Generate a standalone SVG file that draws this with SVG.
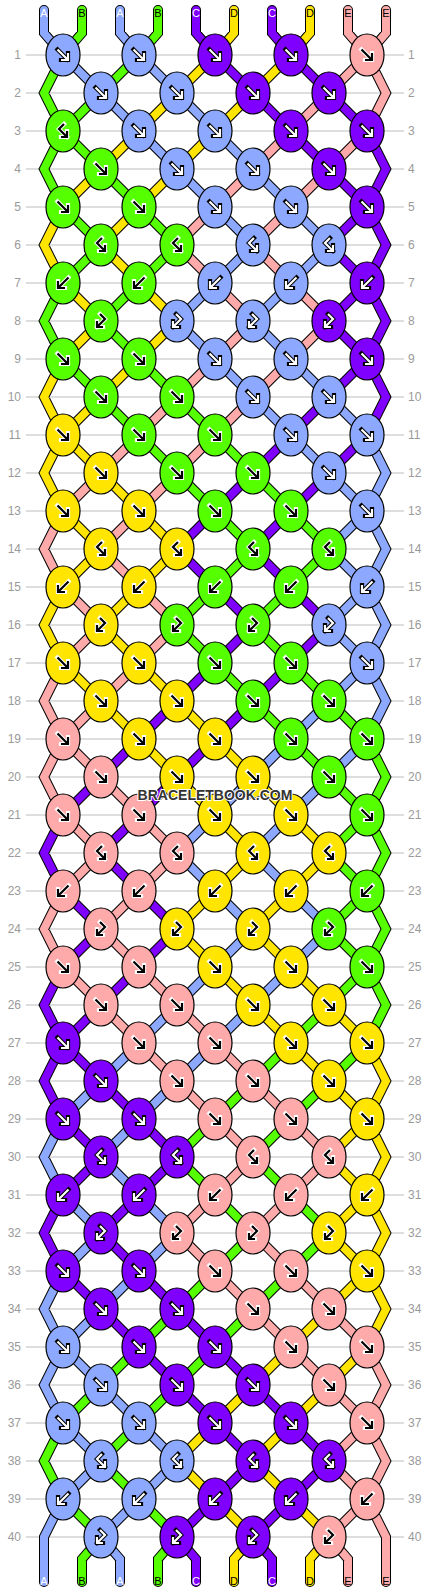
<svg xmlns="http://www.w3.org/2000/svg" xmlns:xlink="http://www.w3.org/1999/xlink" width="430" height="1592" viewBox="0 0 430 1592">
<style>
.t{fill:none;stroke-linecap:round;stroke-linejoin:miter}
.ol{stroke:#000;stroke-width:10}
.cA{stroke:#8da9ff;stroke-width:8}.cB{stroke:#55ff00;stroke-width:8}.cC{stroke:#7f00ff;stroke-width:8}.cD{stroke:#ffe500;stroke-width:8}.cE{stroke:#ffaaaa;stroke-width:8}
.A{fill:#8da9ff}.B{fill:#55ff00}.C{fill:#7f00ff}.D{fill:#ffe500}.E{fill:#ffaaaa}
.ao{fill:none;stroke:#000;stroke-width:4.2;stroke-linecap:square;stroke-linejoin:miter}
.ai{fill:none;stroke:#fff;stroke-width:2.2;stroke-linecap:butt;stroke-linejoin:miter}
.bo{fill:none;stroke:#fff;stroke-width:4.2;stroke-linecap:square;stroke-linejoin:miter}
.bi{fill:none;stroke:#000;stroke-width:2.2;stroke-linecap:butt;stroke-linejoin:miter}
.grid{stroke:#bdbdbd;stroke-width:1;fill:none}
.nl{font-family:'Liberation Sans',Arial,sans-serif;font-size:12px;fill:#9a9a9a;text-anchor:end}
.nr{font-family:'Liberation Sans',Arial,sans-serif;font-size:12px;fill:#9a9a9a;text-anchor:start}
.lab{font-family:'Liberation Sans',Arial,sans-serif;font-size:11px;text-anchor:middle}
.lw{fill:#fff}.lk{fill:#000}
.wm{font-family:'Liberation Sans',Arial,sans-serif;font-weight:bold;font-size:14px;text-anchor:middle;fill:#333;stroke:#fff;stroke-width:2;paint-order:stroke}
</style>
<defs>
<ellipse id="e" rx="17" ry="21" stroke="#000" stroke-width="1.2"/>
<path id="pf" d="M-5.5,-5.5L4.5,4.5M5,-2V5H-2"/>
<path id="pb" d="M5.5,-5.5L-4.5,4.5M-5,-2V5H2"/>
<path id="pfb" d="M1,-7L-4,-2L4,6M4,0V6H-2"/>
<path id="pbf" d="M-1,-7L4,-2L-4,6M-4,0V6H2"/>
<g id="Wf"><use href="#pf" class="ao"/><use href="#pf" class="ai"/></g>
<g id="Wb"><use href="#pb" class="ao"/><use href="#pb" class="ai"/></g>
<g id="Wfb"><use href="#pfb" class="ao"/><use href="#pfb" class="ai"/></g>
<g id="Wbf"><use href="#pbf" class="ao"/><use href="#pbf" class="ai"/></g>
<g id="Kf"><use href="#pf" class="bo"/><use href="#pf" class="bi"/></g>
<g id="Kb"><use href="#pb" class="bo"/><use href="#pb" class="bi"/></g>
<g id="Kfb"><use href="#pfb" class="bo"/><use href="#pfb" class="bi"/></g>
<g id="Kbf"><use href="#pbf" class="bo"/><use href="#pbf" class="bi"/></g>
<path id="tA" d="M44,10V33L63,55M120,10V33L139,55M63,55l38,38M139,55l38,38M101,93l38,38M177,93l38,38M139,131l38,38M215,131l38,38M177,169l38,38M253,169l38,38M215,207l38,38M291,207l38,38M253,245l-38,38M329,245l-38,38M215,283l-38,38M291,283l-38,38M177,321l38,38M253,321l38,38M215,359l38,38M291,359l38,38M253,397l38,38M329,397l38,38M291,435l38,38M329,473l38,38M367,511l-38,38M329,549l38,38M367,587l-38,38M329,625l38,38M367,663l-38,38M329,701l-38,38M291,739l-38,38M367,739l-38,38M253,777l-38,38M329,777l-38,38M215,815l-38,38M291,815l-38,38M177,853l38,38M253,853l38,38M215,891l38,38M291,891l38,38M253,929l-38,38M329,929l-38,38M215,967l-38,38M291,967l-38,38M177,1005l-38,38M253,1005l-38,38M139,1043l-38,38M215,1043l-38,38M101,1081l-38,38M177,1081l-38,38M139,1119l-38,38M101,1157l38,38M63,1195l38,38M139,1195l38,38M101,1233l-38,38M177,1233l-38,38M139,1271l-38,38M101,1309l-38,38M63,1347l38,38M101,1385l38,38M63,1423l38,38M139,1423l38,38M101,1461l-38,38M177,1461l-38,38M139,1499l-38,38M63,1119L44,1157L63,1195M63,1271L44,1309L63,1347L44,1385L63,1423M63,1499L44,1537V1582M367,435L386,473L367,511L386,549L367,587L386,625L367,663L386,701L367,739M101,1537L120,1559V1582"/>
<path id="tB" d="M82,10V33L63,55M158,10V33L139,55M139,55l-38,38M101,93l-38,38M63,131l38,38M101,169l38,38M63,207l38,38M139,207l38,38M101,245l-38,38M177,245l-38,38M139,283l-38,38M101,321l38,38M63,359l38,38M139,359l38,38M101,397l38,38M177,397l38,38M139,435l38,38M215,435l38,38M177,473l38,38M253,473l38,38M215,511l38,38M291,511l38,38M253,549l-38,38M329,549l-38,38M215,587l-38,38M291,587l-38,38M177,625l38,38M253,625l38,38M215,663l38,38M291,663l38,38M253,701l38,38M329,701l38,38M291,739l38,38M329,777l38,38M367,815l-38,38M329,853l38,38M367,891l-38,38M329,929l38,38M367,967l-38,38M329,1005l-38,38M291,1043l-38,38M367,1043l-38,38M253,1081l-38,38M329,1081l-38,38M215,1119l-38,38M291,1119l-38,38M177,1157l38,38M253,1157l38,38M215,1195l38,38M291,1195l38,38M253,1233l-38,38M329,1233l-38,38M215,1271l-38,38M291,1271l-38,38M177,1309l-38,38M253,1309l-38,38M139,1347l-38,38M215,1347l-38,38M101,1385l-38,38M177,1385l-38,38M139,1423l-38,38M101,1461l38,38M63,1499l38,38M139,1499l38,38M63,55L44,93L63,131L44,169L63,207M63,283L44,321L63,359M63,1423L44,1461L63,1499M367,739L386,777L367,815L386,853L367,891L386,929L367,967L386,1005L367,1043M101,1537L82,1559V1582M177,1537L158,1559V1582"/>
<path id="tC" d="M196,10V33L215,55M272,10V33L291,55M215,55l38,38M291,55l38,38M253,93l38,38M329,93l38,38M291,131l38,38M329,169l38,38M367,207l-38,38M329,245l38,38M367,283l-38,38M329,321l38,38M367,359l-38,38M329,397l-38,38M291,435l-38,38M367,435l-38,38M253,473l-38,38M329,473l-38,38M215,511l-38,38M291,511l-38,38M177,549l38,38M253,549l38,38M215,587l38,38M291,587l38,38M253,625l-38,38M329,625l-38,38M215,663l-38,38M291,663l-38,38M177,701l-38,38M253,701l-38,38M139,739l-38,38M215,739l-38,38M101,777l-38,38M177,777l-38,38M139,815l-38,38M101,853l38,38M63,891l38,38M139,891l38,38M101,929l-38,38M177,929l-38,38M139,967l-38,38M101,1005l-38,38M63,1043l38,38M101,1081l38,38M63,1119l38,38M139,1119l38,38M101,1157l-38,38M177,1157l-38,38M139,1195l-38,38M101,1233l38,38M63,1271l38,38M139,1271l38,38M101,1309l38,38M177,1309l38,38M139,1347l38,38M215,1347l38,38M177,1385l38,38M253,1385l38,38M215,1423l38,38M291,1423l38,38M253,1461l-38,38M329,1461l-38,38M215,1499l-38,38M291,1499l-38,38M63,815L44,853L63,891M63,967L44,1005L63,1043L44,1081L63,1119M63,1195L44,1233L63,1271M367,131L386,169L367,207L386,245L367,283L386,321L367,359L386,397L367,435M177,1537L196,1559V1582M253,1537L272,1559V1582"/>
<path id="tD" d="M234,10V33L215,55M310,10V33L291,55M215,55l-38,38M291,55l-38,38M177,93l-38,38M253,93l-38,38M139,131l-38,38M215,131l-38,38M101,169l-38,38M177,169l-38,38M139,207l-38,38M101,245l38,38M63,283l38,38M139,283l38,38M101,321l-38,38M177,321l-38,38M139,359l-38,38M101,397l-38,38M63,435l38,38M101,473l38,38M63,511l38,38M139,511l38,38M101,549l-38,38M177,549l-38,38M139,587l-38,38M101,625l38,38M63,663l38,38M139,663l38,38M101,701l38,38M177,701l38,38M139,739l38,38M215,739l38,38M177,777l38,38M253,777l38,38M215,815l38,38M291,815l38,38M253,853l-38,38M329,853l-38,38M215,891l-38,38M291,891l-38,38M177,929l38,38M253,929l38,38M215,967l38,38M291,967l38,38M253,1005l38,38M329,1005l38,38M291,1043l38,38M329,1081l38,38M367,1119l-38,38M329,1157l38,38M367,1195l-38,38M329,1233l38,38M367,1271l-38,38M329,1309l-38,38M291,1347l-38,38M367,1347l-38,38M253,1385l-38,38M329,1385l-38,38M215,1423l-38,38M291,1423l-38,38M177,1461l38,38M253,1461l38,38M215,1499l38,38M291,1499l38,38M63,207L44,245L63,283M63,359L44,397L63,435L44,473L63,511M63,587L44,625L63,663M367,1043L386,1081L367,1119L386,1157L367,1195L386,1233L367,1271L386,1309L367,1347M253,1537L234,1559V1582M329,1537L310,1559V1582"/>
<path id="tE" d="M348,10V33L367,55M386,10V33L367,55M367,55l-38,38M329,93l-38,38M291,131l-38,38M367,131l-38,38M253,169l-38,38M329,169l-38,38M215,207l-38,38M291,207l-38,38M177,245l38,38M253,245l38,38M215,283l38,38M291,283l38,38M253,321l-38,38M329,321l-38,38M215,359l-38,38M291,359l-38,38M177,397l-38,38M253,397l-38,38M139,435l-38,38M215,435l-38,38M101,473l-38,38M177,473l-38,38M139,511l-38,38M101,549l38,38M63,587l38,38M139,587l38,38M101,625l-38,38M177,625l-38,38M139,663l-38,38M101,701l-38,38M63,739l38,38M101,777l38,38M63,815l38,38M139,815l38,38M101,853l-38,38M177,853l-38,38M139,891l-38,38M101,929l38,38M63,967l38,38M139,967l38,38M101,1005l38,38M177,1005l38,38M139,1043l38,38M215,1043l38,38M177,1081l38,38M253,1081l38,38M215,1119l38,38M291,1119l38,38M253,1157l-38,38M329,1157l-38,38M215,1195l-38,38M291,1195l-38,38M177,1233l38,38M253,1233l38,38M215,1271l38,38M291,1271l38,38M253,1309l38,38M329,1309l38,38M291,1347l38,38M329,1385l38,38M367,1423l-38,38M329,1461l38,38M367,1499l-38,38M63,511L44,549L63,587M63,663L44,701L63,739L44,777L63,815M63,891L44,929L63,967M367,55L386,93L367,131M367,1347L386,1385L367,1423L386,1461L367,1499L386,1537V1582M329,1537L348,1559V1582"/>
</defs>
<rect width="430" height="1592" fill="#fff"/>
<g id="gridlines">
<path class="grid" d="M26,55H404M26,93H404M26,131H404M26,169H404M26,207H404M26,245H404M26,283H404M26,321H404M26,359H404M26,397H404M26,435H404M26,473H404M26,511H404M26,549H404M26,587H404M26,625H404M26,663H404M26,701H404M26,739H404M26,777H404M26,815H404M26,853H404M26,891H404M26,929H404M26,967H404M26,1005H404M26,1043H404M26,1081H404M26,1119H404M26,1157H404M26,1195H404M26,1233H404M26,1271H404M26,1309H404M26,1347H404M26,1385H404M26,1423H404M26,1461H404M26,1499H404M26,1537H404"/>
</g>
<g id="rownumbers">
<text class="nl" x="21" y="59">1</text><text class="nr" x="408" y="59">1</text>
<text class="nl" x="21" y="97">2</text><text class="nr" x="408" y="97">2</text>
<text class="nl" x="21" y="135">3</text><text class="nr" x="408" y="135">3</text>
<text class="nl" x="21" y="173">4</text><text class="nr" x="408" y="173">4</text>
<text class="nl" x="21" y="211">5</text><text class="nr" x="408" y="211">5</text>
<text class="nl" x="21" y="249">6</text><text class="nr" x="408" y="249">6</text>
<text class="nl" x="21" y="287">7</text><text class="nr" x="408" y="287">7</text>
<text class="nl" x="21" y="325">8</text><text class="nr" x="408" y="325">8</text>
<text class="nl" x="21" y="363">9</text><text class="nr" x="408" y="363">9</text>
<text class="nl" x="21" y="401">10</text><text class="nr" x="408" y="401">10</text>
<text class="nl" x="21" y="439">11</text><text class="nr" x="408" y="439">11</text>
<text class="nl" x="21" y="477">12</text><text class="nr" x="408" y="477">12</text>
<text class="nl" x="21" y="515">13</text><text class="nr" x="408" y="515">13</text>
<text class="nl" x="21" y="553">14</text><text class="nr" x="408" y="553">14</text>
<text class="nl" x="21" y="591">15</text><text class="nr" x="408" y="591">15</text>
<text class="nl" x="21" y="629">16</text><text class="nr" x="408" y="629">16</text>
<text class="nl" x="21" y="667">17</text><text class="nr" x="408" y="667">17</text>
<text class="nl" x="21" y="705">18</text><text class="nr" x="408" y="705">18</text>
<text class="nl" x="21" y="743">19</text><text class="nr" x="408" y="743">19</text>
<text class="nl" x="21" y="781">20</text><text class="nr" x="408" y="781">20</text>
<text class="nl" x="21" y="819">21</text><text class="nr" x="408" y="819">21</text>
<text class="nl" x="21" y="857">22</text><text class="nr" x="408" y="857">22</text>
<text class="nl" x="21" y="895">23</text><text class="nr" x="408" y="895">23</text>
<text class="nl" x="21" y="933">24</text><text class="nr" x="408" y="933">24</text>
<text class="nl" x="21" y="971">25</text><text class="nr" x="408" y="971">25</text>
<text class="nl" x="21" y="1009">26</text><text class="nr" x="408" y="1009">26</text>
<text class="nl" x="21" y="1047">27</text><text class="nr" x="408" y="1047">27</text>
<text class="nl" x="21" y="1085">28</text><text class="nr" x="408" y="1085">28</text>
<text class="nl" x="21" y="1123">29</text><text class="nr" x="408" y="1123">29</text>
<text class="nl" x="21" y="1161">30</text><text class="nr" x="408" y="1161">30</text>
<text class="nl" x="21" y="1199">31</text><text class="nr" x="408" y="1199">31</text>
<text class="nl" x="21" y="1237">32</text><text class="nr" x="408" y="1237">32</text>
<text class="nl" x="21" y="1275">33</text><text class="nr" x="408" y="1275">33</text>
<text class="nl" x="21" y="1313">34</text><text class="nr" x="408" y="1313">34</text>
<text class="nl" x="21" y="1351">35</text><text class="nr" x="408" y="1351">35</text>
<text class="nl" x="21" y="1389">36</text><text class="nr" x="408" y="1389">36</text>
<text class="nl" x="21" y="1427">37</text><text class="nr" x="408" y="1427">37</text>
<text class="nl" x="21" y="1465">38</text><text class="nr" x="408" y="1465">38</text>
<text class="nl" x="21" y="1503">39</text><text class="nr" x="408" y="1503">39</text>
<text class="nl" x="21" y="1541">40</text><text class="nr" x="408" y="1541">40</text>
</g>
<g id="connectors">
<g class="t ol"><use href="#tA"/><use href="#tB"/><use href="#tC"/><use href="#tD"/><use href="#tE"/></g>
<use href="#tA" class="t cA"/><use href="#tB" class="t cB"/><use href="#tC" class="t cC"/><use href="#tD" class="t cD"/><use href="#tE" class="t cE"/>
</g>
<g id="stringlabels">
<text class="lab lw" x="44" y="17">A</text><text class="lab lk" x="82" y="17">B</text><text class="lab lw" x="120" y="17">A</text><text class="lab lk" x="158" y="17">B</text><text class="lab lw" x="196" y="17">C</text><text class="lab lk" x="234" y="17">D</text><text class="lab lw" x="272" y="17">C</text><text class="lab lk" x="310" y="17">D</text><text class="lab lk" x="348" y="17">E</text><text class="lab lk" x="386" y="17">E</text>
<text class="lab lw" x="44" y="1585">A</text><text class="lab lk" x="82" y="1585">B</text><text class="lab lw" x="120" y="1585">A</text><text class="lab lk" x="158" y="1585">B</text><text class="lab lw" x="196" y="1585">C</text><text class="lab lk" x="234" y="1585">D</text><text class="lab lw" x="272" y="1585">C</text><text class="lab lk" x="310" y="1585">D</text><text class="lab lk" x="348" y="1585">E</text><text class="lab lk" x="386" y="1585">E</text>
</g>
<g id="knots">
<g id="k1-1" transform="translate(63,55)"><use href="#e" class="A"/><use href="#Wf"/></g>
<g id="k1-2" transform="translate(139,55)"><use href="#e" class="A"/><use href="#Wf"/></g>
<g id="k1-3" transform="translate(215,55)"><use href="#e" class="C"/><use href="#Wf"/></g>
<g id="k1-4" transform="translate(291,55)"><use href="#e" class="C"/><use href="#Wf"/></g>
<g id="k1-5" transform="translate(367,55)"><use href="#e" class="E"/><use href="#Kf"/></g>
<g id="k2-1" transform="translate(101,93)"><use href="#e" class="A"/><use href="#Wf"/></g>
<g id="k2-2" transform="translate(177,93)"><use href="#e" class="A"/><use href="#Wf"/></g>
<g id="k2-3" transform="translate(253,93)"><use href="#e" class="C"/><use href="#Wf"/></g>
<g id="k2-4" transform="translate(329,93)"><use href="#e" class="C"/><use href="#Wf"/></g>
<g id="k3-1" transform="translate(63,131)"><use href="#e" class="B"/><use href="#Kfb"/></g>
<g id="k3-2" transform="translate(139,131)"><use href="#e" class="A"/><use href="#Wf"/></g>
<g id="k3-3" transform="translate(215,131)"><use href="#e" class="A"/><use href="#Wf"/></g>
<g id="k3-4" transform="translate(291,131)"><use href="#e" class="C"/><use href="#Wf"/></g>
<g id="k3-5" transform="translate(367,131)"><use href="#e" class="C"/><use href="#Wf"/></g>
<g id="k4-1" transform="translate(101,169)"><use href="#e" class="B"/><use href="#Kf"/></g>
<g id="k4-2" transform="translate(177,169)"><use href="#e" class="A"/><use href="#Wf"/></g>
<g id="k4-3" transform="translate(253,169)"><use href="#e" class="A"/><use href="#Wf"/></g>
<g id="k4-4" transform="translate(329,169)"><use href="#e" class="C"/><use href="#Wf"/></g>
<g id="k5-1" transform="translate(63,207)"><use href="#e" class="B"/><use href="#Kf"/></g>
<g id="k5-2" transform="translate(139,207)"><use href="#e" class="B"/><use href="#Kf"/></g>
<g id="k5-3" transform="translate(215,207)"><use href="#e" class="A"/><use href="#Wf"/></g>
<g id="k5-4" transform="translate(291,207)"><use href="#e" class="A"/><use href="#Wf"/></g>
<g id="k5-5" transform="translate(367,207)"><use href="#e" class="C"/><use href="#Wf"/></g>
<g id="k6-1" transform="translate(101,245)"><use href="#e" class="B"/><use href="#Kfb"/></g>
<g id="k6-2" transform="translate(177,245)"><use href="#e" class="B"/><use href="#Kfb"/></g>
<g id="k6-3" transform="translate(253,245)"><use href="#e" class="A"/><use href="#Wfb"/></g>
<g id="k6-4" transform="translate(329,245)"><use href="#e" class="A"/><use href="#Wfb"/></g>
<g id="k7-1" transform="translate(63,283)"><use href="#e" class="B"/><use href="#Kb"/></g>
<g id="k7-2" transform="translate(139,283)"><use href="#e" class="B"/><use href="#Kb"/></g>
<g id="k7-3" transform="translate(215,283)"><use href="#e" class="A"/><use href="#Wb"/></g>
<g id="k7-4" transform="translate(291,283)"><use href="#e" class="A"/><use href="#Wb"/></g>
<g id="k7-5" transform="translate(367,283)"><use href="#e" class="C"/><use href="#Wb"/></g>
<g id="k8-1" transform="translate(101,321)"><use href="#e" class="B"/><use href="#Kbf"/></g>
<g id="k8-2" transform="translate(177,321)"><use href="#e" class="A"/><use href="#Wbf"/></g>
<g id="k8-3" transform="translate(253,321)"><use href="#e" class="A"/><use href="#Wbf"/></g>
<g id="k8-4" transform="translate(329,321)"><use href="#e" class="C"/><use href="#Wbf"/></g>
<g id="k9-1" transform="translate(63,359)"><use href="#e" class="B"/><use href="#Kf"/></g>
<g id="k9-2" transform="translate(139,359)"><use href="#e" class="B"/><use href="#Kf"/></g>
<g id="k9-3" transform="translate(215,359)"><use href="#e" class="A"/><use href="#Wf"/></g>
<g id="k9-4" transform="translate(291,359)"><use href="#e" class="A"/><use href="#Wf"/></g>
<g id="k9-5" transform="translate(367,359)"><use href="#e" class="C"/><use href="#Wf"/></g>
<g id="k10-1" transform="translate(101,397)"><use href="#e" class="B"/><use href="#Kf"/></g>
<g id="k10-2" transform="translate(177,397)"><use href="#e" class="B"/><use href="#Kf"/></g>
<g id="k10-3" transform="translate(253,397)"><use href="#e" class="A"/><use href="#Wf"/></g>
<g id="k10-4" transform="translate(329,397)"><use href="#e" class="A"/><use href="#Wf"/></g>
<g id="k11-1" transform="translate(63,435)"><use href="#e" class="D"/><use href="#Kf"/></g>
<g id="k11-2" transform="translate(139,435)"><use href="#e" class="B"/><use href="#Kf"/></g>
<g id="k11-3" transform="translate(215,435)"><use href="#e" class="B"/><use href="#Kf"/></g>
<g id="k11-4" transform="translate(291,435)"><use href="#e" class="A"/><use href="#Wf"/></g>
<g id="k11-5" transform="translate(367,435)"><use href="#e" class="A"/><use href="#Wf"/></g>
<g id="k12-1" transform="translate(101,473)"><use href="#e" class="D"/><use href="#Kf"/></g>
<g id="k12-2" transform="translate(177,473)"><use href="#e" class="B"/><use href="#Kf"/></g>
<g id="k12-3" transform="translate(253,473)"><use href="#e" class="B"/><use href="#Kf"/></g>
<g id="k12-4" transform="translate(329,473)"><use href="#e" class="A"/><use href="#Wf"/></g>
<g id="k13-1" transform="translate(63,511)"><use href="#e" class="D"/><use href="#Kf"/></g>
<g id="k13-2" transform="translate(139,511)"><use href="#e" class="D"/><use href="#Kf"/></g>
<g id="k13-3" transform="translate(215,511)"><use href="#e" class="B"/><use href="#Kf"/></g>
<g id="k13-4" transform="translate(291,511)"><use href="#e" class="B"/><use href="#Kf"/></g>
<g id="k13-5" transform="translate(367,511)"><use href="#e" class="A"/><use href="#Wf"/></g>
<g id="k14-1" transform="translate(101,549)"><use href="#e" class="D"/><use href="#Kfb"/></g>
<g id="k14-2" transform="translate(177,549)"><use href="#e" class="D"/><use href="#Kfb"/></g>
<g id="k14-3" transform="translate(253,549)"><use href="#e" class="B"/><use href="#Kfb"/></g>
<g id="k14-4" transform="translate(329,549)"><use href="#e" class="B"/><use href="#Kfb"/></g>
<g id="k15-1" transform="translate(63,587)"><use href="#e" class="D"/><use href="#Kb"/></g>
<g id="k15-2" transform="translate(139,587)"><use href="#e" class="D"/><use href="#Kb"/></g>
<g id="k15-3" transform="translate(215,587)"><use href="#e" class="B"/><use href="#Kb"/></g>
<g id="k15-4" transform="translate(291,587)"><use href="#e" class="B"/><use href="#Kb"/></g>
<g id="k15-5" transform="translate(367,587)"><use href="#e" class="A"/><use href="#Wb"/></g>
<g id="k16-1" transform="translate(101,625)"><use href="#e" class="D"/><use href="#Kbf"/></g>
<g id="k16-2" transform="translate(177,625)"><use href="#e" class="B"/><use href="#Kbf"/></g>
<g id="k16-3" transform="translate(253,625)"><use href="#e" class="B"/><use href="#Kbf"/></g>
<g id="k16-4" transform="translate(329,625)"><use href="#e" class="A"/><use href="#Wbf"/></g>
<g id="k17-1" transform="translate(63,663)"><use href="#e" class="D"/><use href="#Kf"/></g>
<g id="k17-2" transform="translate(139,663)"><use href="#e" class="D"/><use href="#Kf"/></g>
<g id="k17-3" transform="translate(215,663)"><use href="#e" class="B"/><use href="#Kf"/></g>
<g id="k17-4" transform="translate(291,663)"><use href="#e" class="B"/><use href="#Kf"/></g>
<g id="k17-5" transform="translate(367,663)"><use href="#e" class="A"/><use href="#Wf"/></g>
<g id="k18-1" transform="translate(101,701)"><use href="#e" class="D"/><use href="#Kf"/></g>
<g id="k18-2" transform="translate(177,701)"><use href="#e" class="D"/><use href="#Kf"/></g>
<g id="k18-3" transform="translate(253,701)"><use href="#e" class="B"/><use href="#Kf"/></g>
<g id="k18-4" transform="translate(329,701)"><use href="#e" class="B"/><use href="#Kf"/></g>
<g id="k19-1" transform="translate(63,739)"><use href="#e" class="E"/><use href="#Kf"/></g>
<g id="k19-2" transform="translate(139,739)"><use href="#e" class="D"/><use href="#Kf"/></g>
<g id="k19-3" transform="translate(215,739)"><use href="#e" class="D"/><use href="#Kf"/></g>
<g id="k19-4" transform="translate(291,739)"><use href="#e" class="B"/><use href="#Kf"/></g>
<g id="k19-5" transform="translate(367,739)"><use href="#e" class="B"/><use href="#Kf"/></g>
<g id="k20-1" transform="translate(101,777)"><use href="#e" class="E"/><use href="#Kf"/></g>
<g id="k20-2" transform="translate(177,777)"><use href="#e" class="D"/><use href="#Kf"/></g>
<g id="k20-3" transform="translate(253,777)"><use href="#e" class="D"/><use href="#Kf"/></g>
<g id="k20-4" transform="translate(329,777)"><use href="#e" class="B"/><use href="#Kf"/></g>
<g id="k21-1" transform="translate(63,815)"><use href="#e" class="E"/><use href="#Kf"/></g>
<g id="k21-2" transform="translate(139,815)"><use href="#e" class="E"/><use href="#Kf"/></g>
<g id="k21-3" transform="translate(215,815)"><use href="#e" class="D"/><use href="#Kf"/></g>
<g id="k21-4" transform="translate(291,815)"><use href="#e" class="D"/><use href="#Kf"/></g>
<g id="k21-5" transform="translate(367,815)"><use href="#e" class="B"/><use href="#Kf"/></g>
<g id="k22-1" transform="translate(101,853)"><use href="#e" class="E"/><use href="#Kfb"/></g>
<g id="k22-2" transform="translate(177,853)"><use href="#e" class="E"/><use href="#Kfb"/></g>
<g id="k22-3" transform="translate(253,853)"><use href="#e" class="D"/><use href="#Kfb"/></g>
<g id="k22-4" transform="translate(329,853)"><use href="#e" class="D"/><use href="#Kfb"/></g>
<g id="k23-1" transform="translate(63,891)"><use href="#e" class="E"/><use href="#Kb"/></g>
<g id="k23-2" transform="translate(139,891)"><use href="#e" class="E"/><use href="#Kb"/></g>
<g id="k23-3" transform="translate(215,891)"><use href="#e" class="D"/><use href="#Kb"/></g>
<g id="k23-4" transform="translate(291,891)"><use href="#e" class="D"/><use href="#Kb"/></g>
<g id="k23-5" transform="translate(367,891)"><use href="#e" class="B"/><use href="#Kb"/></g>
<g id="k24-1" transform="translate(101,929)"><use href="#e" class="E"/><use href="#Kbf"/></g>
<g id="k24-2" transform="translate(177,929)"><use href="#e" class="D"/><use href="#Kbf"/></g>
<g id="k24-3" transform="translate(253,929)"><use href="#e" class="D"/><use href="#Kbf"/></g>
<g id="k24-4" transform="translate(329,929)"><use href="#e" class="B"/><use href="#Kbf"/></g>
<g id="k25-1" transform="translate(63,967)"><use href="#e" class="E"/><use href="#Kf"/></g>
<g id="k25-2" transform="translate(139,967)"><use href="#e" class="E"/><use href="#Kf"/></g>
<g id="k25-3" transform="translate(215,967)"><use href="#e" class="D"/><use href="#Kf"/></g>
<g id="k25-4" transform="translate(291,967)"><use href="#e" class="D"/><use href="#Kf"/></g>
<g id="k25-5" transform="translate(367,967)"><use href="#e" class="B"/><use href="#Kf"/></g>
<g id="k26-1" transform="translate(101,1005)"><use href="#e" class="E"/><use href="#Kf"/></g>
<g id="k26-2" transform="translate(177,1005)"><use href="#e" class="E"/><use href="#Kf"/></g>
<g id="k26-3" transform="translate(253,1005)"><use href="#e" class="D"/><use href="#Kf"/></g>
<g id="k26-4" transform="translate(329,1005)"><use href="#e" class="D"/><use href="#Kf"/></g>
<g id="k27-1" transform="translate(63,1043)"><use href="#e" class="C"/><use href="#Wf"/></g>
<g id="k27-2" transform="translate(139,1043)"><use href="#e" class="E"/><use href="#Kf"/></g>
<g id="k27-3" transform="translate(215,1043)"><use href="#e" class="E"/><use href="#Kf"/></g>
<g id="k27-4" transform="translate(291,1043)"><use href="#e" class="D"/><use href="#Kf"/></g>
<g id="k27-5" transform="translate(367,1043)"><use href="#e" class="D"/><use href="#Kf"/></g>
<g id="k28-1" transform="translate(101,1081)"><use href="#e" class="C"/><use href="#Wf"/></g>
<g id="k28-2" transform="translate(177,1081)"><use href="#e" class="E"/><use href="#Kf"/></g>
<g id="k28-3" transform="translate(253,1081)"><use href="#e" class="E"/><use href="#Kf"/></g>
<g id="k28-4" transform="translate(329,1081)"><use href="#e" class="D"/><use href="#Kf"/></g>
<g id="k29-1" transform="translate(63,1119)"><use href="#e" class="C"/><use href="#Wf"/></g>
<g id="k29-2" transform="translate(139,1119)"><use href="#e" class="C"/><use href="#Wf"/></g>
<g id="k29-3" transform="translate(215,1119)"><use href="#e" class="E"/><use href="#Kf"/></g>
<g id="k29-4" transform="translate(291,1119)"><use href="#e" class="E"/><use href="#Kf"/></g>
<g id="k29-5" transform="translate(367,1119)"><use href="#e" class="D"/><use href="#Kf"/></g>
<g id="k30-1" transform="translate(101,1157)"><use href="#e" class="C"/><use href="#Wfb"/></g>
<g id="k30-2" transform="translate(177,1157)"><use href="#e" class="C"/><use href="#Wfb"/></g>
<g id="k30-3" transform="translate(253,1157)"><use href="#e" class="E"/><use href="#Kfb"/></g>
<g id="k30-4" transform="translate(329,1157)"><use href="#e" class="E"/><use href="#Kfb"/></g>
<g id="k31-1" transform="translate(63,1195)"><use href="#e" class="C"/><use href="#Wb"/></g>
<g id="k31-2" transform="translate(139,1195)"><use href="#e" class="C"/><use href="#Wb"/></g>
<g id="k31-3" transform="translate(215,1195)"><use href="#e" class="E"/><use href="#Kb"/></g>
<g id="k31-4" transform="translate(291,1195)"><use href="#e" class="E"/><use href="#Kb"/></g>
<g id="k31-5" transform="translate(367,1195)"><use href="#e" class="D"/><use href="#Kb"/></g>
<g id="k32-1" transform="translate(101,1233)"><use href="#e" class="C"/><use href="#Wbf"/></g>
<g id="k32-2" transform="translate(177,1233)"><use href="#e" class="E"/><use href="#Kbf"/></g>
<g id="k32-3" transform="translate(253,1233)"><use href="#e" class="E"/><use href="#Kbf"/></g>
<g id="k32-4" transform="translate(329,1233)"><use href="#e" class="D"/><use href="#Kbf"/></g>
<g id="k33-1" transform="translate(63,1271)"><use href="#e" class="C"/><use href="#Wf"/></g>
<g id="k33-2" transform="translate(139,1271)"><use href="#e" class="C"/><use href="#Wf"/></g>
<g id="k33-3" transform="translate(215,1271)"><use href="#e" class="E"/><use href="#Kf"/></g>
<g id="k33-4" transform="translate(291,1271)"><use href="#e" class="E"/><use href="#Kf"/></g>
<g id="k33-5" transform="translate(367,1271)"><use href="#e" class="D"/><use href="#Kf"/></g>
<g id="k34-1" transform="translate(101,1309)"><use href="#e" class="C"/><use href="#Wf"/></g>
<g id="k34-2" transform="translate(177,1309)"><use href="#e" class="C"/><use href="#Wf"/></g>
<g id="k34-3" transform="translate(253,1309)"><use href="#e" class="E"/><use href="#Kf"/></g>
<g id="k34-4" transform="translate(329,1309)"><use href="#e" class="E"/><use href="#Kf"/></g>
<g id="k35-1" transform="translate(63,1347)"><use href="#e" class="A"/><use href="#Wf"/></g>
<g id="k35-2" transform="translate(139,1347)"><use href="#e" class="C"/><use href="#Wf"/></g>
<g id="k35-3" transform="translate(215,1347)"><use href="#e" class="C"/><use href="#Wf"/></g>
<g id="k35-4" transform="translate(291,1347)"><use href="#e" class="E"/><use href="#Kf"/></g>
<g id="k35-5" transform="translate(367,1347)"><use href="#e" class="E"/><use href="#Kf"/></g>
<g id="k36-1" transform="translate(101,1385)"><use href="#e" class="A"/><use href="#Wf"/></g>
<g id="k36-2" transform="translate(177,1385)"><use href="#e" class="C"/><use href="#Wf"/></g>
<g id="k36-3" transform="translate(253,1385)"><use href="#e" class="C"/><use href="#Wf"/></g>
<g id="k36-4" transform="translate(329,1385)"><use href="#e" class="E"/><use href="#Kf"/></g>
<g id="k37-1" transform="translate(63,1423)"><use href="#e" class="A"/><use href="#Wf"/></g>
<g id="k37-2" transform="translate(139,1423)"><use href="#e" class="A"/><use href="#Wf"/></g>
<g id="k37-3" transform="translate(215,1423)"><use href="#e" class="C"/><use href="#Wf"/></g>
<g id="k37-4" transform="translate(291,1423)"><use href="#e" class="C"/><use href="#Wf"/></g>
<g id="k37-5" transform="translate(367,1423)"><use href="#e" class="E"/><use href="#Kf"/></g>
<g id="k38-1" transform="translate(101,1461)"><use href="#e" class="A"/><use href="#Wfb"/></g>
<g id="k38-2" transform="translate(177,1461)"><use href="#e" class="A"/><use href="#Wfb"/></g>
<g id="k38-3" transform="translate(253,1461)"><use href="#e" class="C"/><use href="#Wfb"/></g>
<g id="k38-4" transform="translate(329,1461)"><use href="#e" class="C"/><use href="#Wfb"/></g>
<g id="k39-1" transform="translate(63,1499)"><use href="#e" class="A"/><use href="#Wb"/></g>
<g id="k39-2" transform="translate(139,1499)"><use href="#e" class="A"/><use href="#Wb"/></g>
<g id="k39-3" transform="translate(215,1499)"><use href="#e" class="C"/><use href="#Wb"/></g>
<g id="k39-4" transform="translate(291,1499)"><use href="#e" class="C"/><use href="#Wb"/></g>
<g id="k39-5" transform="translate(367,1499)"><use href="#e" class="E"/><use href="#Kb"/></g>
<g id="k40-1" transform="translate(101,1537)"><use href="#e" class="A"/><use href="#Wbf"/></g>
<g id="k40-2" transform="translate(177,1537)"><use href="#e" class="C"/><use href="#Wbf"/></g>
<g id="k40-3" transform="translate(253,1537)"><use href="#e" class="C"/><use href="#Wbf"/></g>
<g id="k40-4" transform="translate(329,1537)"><use href="#e" class="E"/><use href="#Kbf"/></g>
</g>
<g id="watermark"><text class="wm" x="215" y="800">BRACELETBOOK.COM</text></g>
</svg>
